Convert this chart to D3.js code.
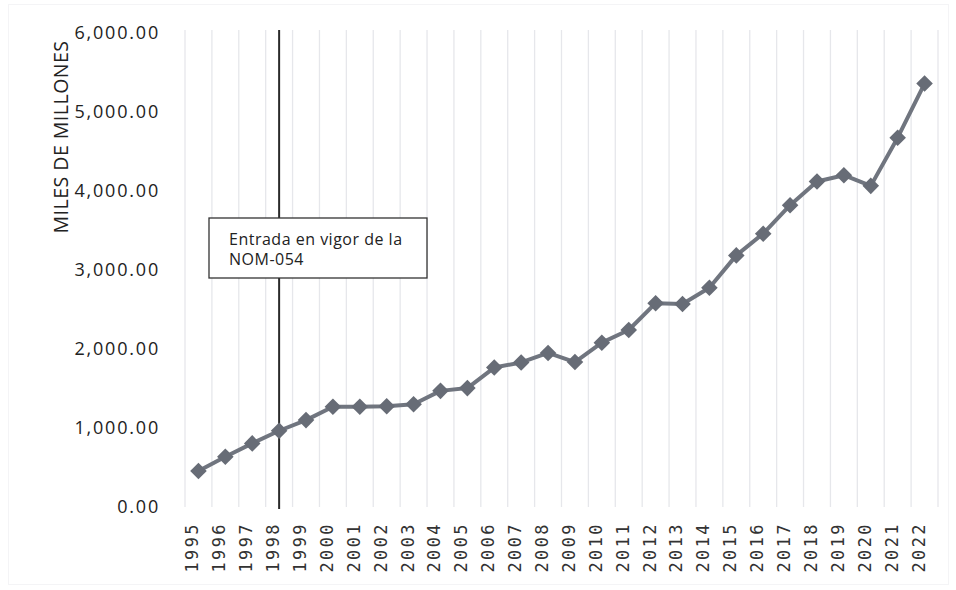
<!DOCTYPE html>
<html>
<head>
<meta charset="utf-8">
<script src="https://cdn.jsdelivr.net/npm/d3@7"></script>
<style>
  body { margin: 0; background: #fff; }
  svg { display: block; }
</style>
</head>
<body>
<div id="chart"></div>
<script>
const years = ["1995","1996","1997","1998","1999","2000","2001","2002","2003","2004",
  "2005","2006","2007","2008","2009","2010","2011","2012","2013","2014",
  "2015","2016","2017","2018","2019","2020","2021","2022"];
const values = [455, 635, 805, 965, 1100, 1270, 1270, 1275, 1300, 1470,
  1505, 1765, 1830, 1950, 1835, 2080, 2240, 2580, 2570, 2775,
  3185, 3460, 3820, 4120, 4200, 4065, 4675, 5360];
const yTicks = [0, 1000, 2000, 3000, 4000, 5000, 6000];
const markerYear = "1998";
const noteLines = ["Entrada en vigor de la", "NOM-054"];

const width = 956, height = 590;
const margin = { top: 33, right: 18, bottom: 83, left: 185 };

const svg = d3.select("#chart").append("svg")
  .attr("width", width)
  .attr("height", height);

// faint outer frame
svg.append("rect")
  .attr("x", 8.5).attr("y", 4.5)
  .attr("width", 940).attr("height", 580)
  .attr("fill", "none")
  .attr("stroke", "#f4f4f6");

const x = d3.scaleBand()
  .domain(years)
  .range([margin.left, width - margin.right]);

const y = d3.scaleLinear()
  .domain([0, 6000])
  .range([height - margin.bottom, margin.top]);

// vertical grid lines at category boundaries
const bounds = years.map(d => x(d)).concat([x(years[years.length - 1]) + x.bandwidth()]);
svg.append("g")
  .selectAll("line")
  .data(bounds)
  .enter()
  .append("line")
  .attr("x1", d => d).attr("x2", d => d)
  .attr("y1", y(6000) - 3).attr("y2", y(0))
  .attr("stroke", "#e6e7eb")
  .attr("stroke-width", 1.3);

// y axis labels
const yAxis = svg.append("g")
  .attr("transform", "translate(" + (margin.left - 22) + ",0)")
  .call(d3.axisLeft(y).tickValues(yTicks).tickSize(0).tickFormat(d3.format(",.2f")));
yAxis.select(".domain").remove();
yAxis.selectAll("text")
  .attr("font-family", "'Open Sans', sans-serif")
  .attr("font-size", 18)
  .attr("letter-spacing", 1.8)
  .attr("fill", "#222");

// y axis title
svg.append("text")
  .attr("transform", "translate(68,137)rotate(-90)")
  .attr("text-anchor", "middle")
  .attr("font-family", "'Open Sans', sans-serif")
  .attr("font-size", 19.5)
  .attr("letter-spacing", 0.5)
  .attr("fill", "#222")
  .text("MILES DE MILLONES");

// x axis labels
const xAxis = svg.append("g")
  .attr("transform", "translate(0," + y(0) + ")")
  .call(d3.axisBottom(x).tickSize(0));
xAxis.select(".domain").remove();
xAxis.selectAll("text")
  .attr("font-family", "'DejaVu Sans Mono', monospace")
  .attr("font-size", 17)
  .attr("fill", "#333")
  .attr("letter-spacing", 2.4)
  .attr("transform", "translate(-6,15)rotate(-90)")
  .attr("dy", "0.35em")
  .attr("x", 0).attr("y", 0)
  .style("text-anchor", "end");

// marker line for NOM-054
const mx = x(markerYear) + x.bandwidth() / 2;
svg.append("line")
  .attr("x1", mx).attr("x2", mx)
  .attr("y1", y(6000) - 3).attr("y2", y(0) + 2)
  .attr("stroke", "#2a2a2a")
  .attr("stroke-width", 2);

// note box
const note = svg.append("g").attr("transform", "translate(209,218)");
note.append("rect")
  .attr("width", 218).attr("height", 60)
  .attr("fill", "#fff")
  .attr("stroke", "#333")
  .attr("stroke-width", 1.3);
note.selectAll("text")
  .data(noteLines)
  .enter()
  .append("text")
  .attr("x", 20)
  .attr("y", (d, i) => 27 + i * 20)
  .attr("font-family", "'Open Sans', sans-serif")
  .attr("font-size", 16)
  .attr("letter-spacing", 0.5)
  .attr("fill", "#222")
  .text(d => d);

// series line
const line = d3.line()
  .x((d, i) => x(years[i]) + x.bandwidth() / 2)
  .y(d => y(d));

svg.append("path")
  .datum(values)
  .attr("d", line)
  .attr("fill", "none")
  .attr("stroke", "#70757f")
  .attr("stroke-width", 4)
  .attr("stroke-linejoin", "round");

svg.append("g")
  .selectAll("path")
  .data(values)
  .enter()
  .append("path")
  .attr("d", d3.symbol().type(d3.symbolDiamond2).size(175))
  .attr("transform", (d, i) => "translate(" + (x(years[i]) + x.bandwidth() / 2) + "," + y(d) + ")")
  .attr("fill", "#676c76");
</script>
</body>
</html>
